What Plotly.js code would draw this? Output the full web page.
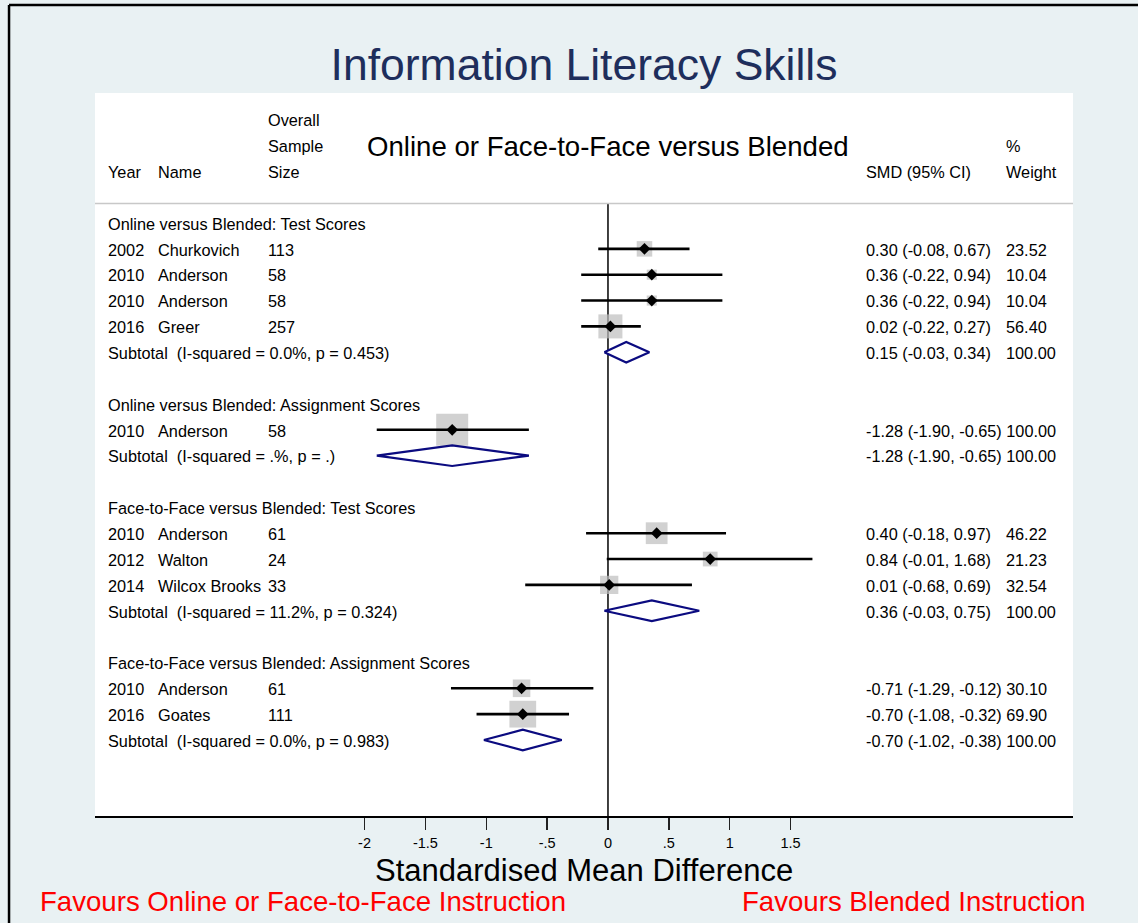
<!DOCTYPE html>
<html>
<head>
<meta charset="utf-8">
<script src="https://cdn.plot.ly/plotly-3.0.1.min.js"></script>
<style>html,body{margin:0;padding:0;background:#E9F1F3;}#chart{width:1138px;height:923px;}</style>
</head>
<body>
<div id="chart"></div>
<script>
// ---------- DATA ----------
const sectionTitles = [
  "Online versus Blended: Test Scores",
  "Online versus Blended: Assignment Scores",
  "Face-to-Face versus Blended: Test Scores",
  "Face-to-Face versus Blended: Assignment Scores"
];
const studySection = [0, 0, 0, 0, 1, 2, 2, 2, 3, 3];
const studyYear    = [2002, 2010, 2010, 2016, 2010, 2010, 2012, 2014, 2010, 2016];
const studyName    = ["Churkovich", "Anderson", "Anderson", "Greer", "Anderson", "Anderson", "Walton", "Wilcox Brooks", "Anderson", "Goates"];
const studyN       = [113, 58, 58, 257, 58, 61, 24, 33, 61, 111];
const studySMD     = [0.30, 0.36, 0.36, 0.02, -1.28, 0.40, 0.84, 0.01, -0.71, -0.70];
const studyLo      = [-0.08, -0.22, -0.22, -0.22, -1.90, -0.18, -0.01, -0.68, -1.29, -1.08];
const studyHi      = [0.67, 0.94, 0.94, 0.27, -0.65, 0.97, 1.68, 0.69, -0.12, -0.32];
const studyWeight  = [23.52, 10.04, 10.04, 56.40, 100.00, 46.22, 21.23, 32.54, 30.10, 69.90];

const subI2     = ["0.0%", ".%", "11.2%", "0.0%"];
const subP      = ["0.453", ".", "0.324", "0.983"];
const subSMD    = [0.15, -1.28, 0.36, -0.70];
const subLo     = [-0.03, -1.90, -0.03, -1.02];
const subHi     = [0.34, -0.65, 0.75, -0.38];
const subWeight = [100.00, 100.00, 100.00, 100.00];

const tickVals  = [-2, -1.5, -1, -0.5, 0, 0.5, 1, 1.5];
const tickText  = ["-2", "-1.5", "-1", "-.5", "0", ".5", "1", "1.5"];

// ---------- STYLE / LAYOUT CONSTANTS ----------
const FONT = "Liberation Sans, Arial, Helvetica, sans-serif";
const colYear = 0.0113, colName = 0.0624, colSize = 0.1748, colSMD = 0.7863, colW = 0.9295;
const TXT = 16.3;

const f2 = v => v.toFixed(2);
const ciStr = (m, l, h) => `${f2(m)} (${f2(l)}, ${f2(h)})`;

const annotations = [];
function txt(text, x, y, opts) {
  annotations.push(Object.assign({
    text: text, x: x, y: y + 0.03, xref: "paper", yref: "y",
    xanchor: "left", yanchor: "middle", showarrow: false,
    font: {family: FONT, size: TXT, color: "#000"}
  }, opts || {}));
}
function ciWeight(m, l, h, w, row) {
  const c = ciStr(m, l, h);
  if (c.length >= 20) {
    txt(c + " " + f2(w), colSMD, row);
  } else {
    txt(c, colSMD, row);
    txt(f2(w), colW, row);
  }
}

// build rows
const boxX = [], boxY = [], boxS = [];
const ciX = [], ciY = [];
const ptX = [], ptY = [];
const diamondTraces = [];
let row = 0;
for (let s = 0; s < sectionTitles.length; s++) {
  txt(sectionTitles[s], colYear, row);
  row++;
  for (let i = 0; i < studySection.length; i++) {
    if (studySection[i] !== s) continue;
    txt(String(studyYear[i]), colYear, row);
    txt(studyName[i], colName, row);
    txt(String(studyN[i]), colSize, row);
    ciWeight(studySMD[i], studyLo[i], studyHi[i], studyWeight[i], row);
    boxX.push(studySMD[i]); boxY.push(row); boxS.push(3.2 * Math.sqrt(studyWeight[i]));
    ciX.push(studyLo[i], studyHi[i], null); ciY.push(row, row, null);
    ptX.push(studySMD[i]); ptY.push(row);
    row++;
  }
  txt("Subtotal\u00A0 (I-squared = " + subI2[s] + ", p = " + subP[s] + ")", colYear, row);
  ciWeight(subSMD[s], subLo[s], subHi[s], subWeight[s], row);
  const hh = 0.4;
  diamondTraces.push({
    type: "scatter", mode: "lines", hoverinfo: "skip", showlegend: false,
    x: [subLo[s], subSMD[s], subHi[s], subSMD[s], subLo[s]],
    y: [row, row - hh, row, row + hh, row],
    fill: "toself", fillcolor: "rgba(255,255,255,1)",
    line: {color: "#0B0B80", width: 2.2}
  });
  row += 2;
}

// header texts
txt("Overall", colSize, -4);
txt("Sample", colSize, -3);
txt("Size", colSize, -2);
txt("Year", colYear, -2);
txt("Name", colName, -2);
txt("SMD (95% CI)", colSMD, -2);
txt("%", colW, -3);
txt("Weight", colW, -2);
annotations.push({text: "Online or Face-to-Face versus Blended", x: 0, xref: "x", y: -2.95, yref: "y",
  xanchor: "center", yanchor: "middle", showarrow: false, font: {family: FONT, size: 27.6, color: "#000"}});
annotations.push({text: "Standardised Mean Difference", x: 0.5, xref: "paper", y: -0.0755, yref: "paper",
  xanchor: "center", yanchor: "middle", showarrow: false, font: {family: FONT, size: 31, color: "#000"}});
annotations.push({text: "Favours Online or Face-to-Face Instruction", x: -0.0585, xref: "paper", y: -0.1176, yref: "paper",
  xanchor: "left", yanchor: "middle", showarrow: false, font: {family: FONT, size: 27.6, color: "#FF0000"}});
annotations.push({text: "Favours Blended Instruction", x: 1.0155, xref: "paper", y: -0.1176, yref: "paper",
  xanchor: "right", yanchor: "middle", showarrow: false, font: {family: FONT, size: 27.6, color: "#FF0000"}});

const traces = [
  {type: "scatter", mode: "markers", x: boxX, y: boxY, hoverinfo: "skip", showlegend: false,
   marker: {symbol: "square", size: boxS, color: "#BDBDBD", line: {width: 0}}},
  {type: "scatter", mode: "lines", x: ciX, y: ciY, hoverinfo: "skip", showlegend: false,
   line: {color: "#000", width: 2.6}},
  {type: "scatter", mode: "markers", x: ptX, y: ptY, hoverinfo: "skip", showlegend: false,
   marker: {symbol: "diamond", size: 9, color: "#000"}}
].concat(diamondTraces);

const layout = {
  width: 1138, height: 923,
  paper_bgcolor: "#E9F1F3", plot_bgcolor: "#FFFFFF",
  margin: {l: 95, r: 65, t: 93, b: 107, pad: 0},
  showlegend: false,
  title: {text: "Information Literacy Skills", x: 0.5132, xanchor: "center", xref: "container",
          y: 1 - 64 / 923, yanchor: "middle", yref: "container",
          font: {family: FONT, size: 44.5, color: "#1E2E5C"}},
  xaxis: {range: [-4.215, 3.821], showgrid: false, zeroline: false,
          showline: true, linecolor: "#000", linewidth: 2,
          ticks: "outside", ticklen: 12, tickwidth: 1.5, tickcolor: "#222",
          tickvals: tickVals, ticktext: tickText, ticklabelstandoff: 1,
          tickfont: {family: FONT, size: 14.5, color: "#000"}, fixedrange: true},
  yaxis: {range: [22.94, -5.029], visible: false, showgrid: false, zeroline: false, fixedrange: true},
  shapes: [
    {type: "line", xref: "x", yref: "paper", x0: 0, x1: 0, y0: 0, y1: (816 - 204) / 723,
     line: {color: "#111", width: 1.6}, layer: "below"},
    {type: "line", xref: "paper", yref: "paper", x0: 0, x1: 1, y0: (816 - 203.5) / 723, y1: (816 - 203.5) / 723,
     line: {color: "#C8C8C8", width: 1.5}},
    {type: "line", xref: "paper", yref: "paper", x0: -0.0879, x1: -0.0879, y0: -0.2, y1: 1.1217,
     line: {color: "#000", width: 2.5}},
    {type: "line", xref: "paper", yref: "paper", x0: -0.0879, x1: 1.1, y0: 1.1217, y1: 1.1217,
     line: {color: "#000", width: 2.5}}
  ],
  annotations: annotations
};

Plotly.newPlot("chart", traces, layout, {displayModeBar: false, staticPlot: true});
</script>
</body>
</html>
